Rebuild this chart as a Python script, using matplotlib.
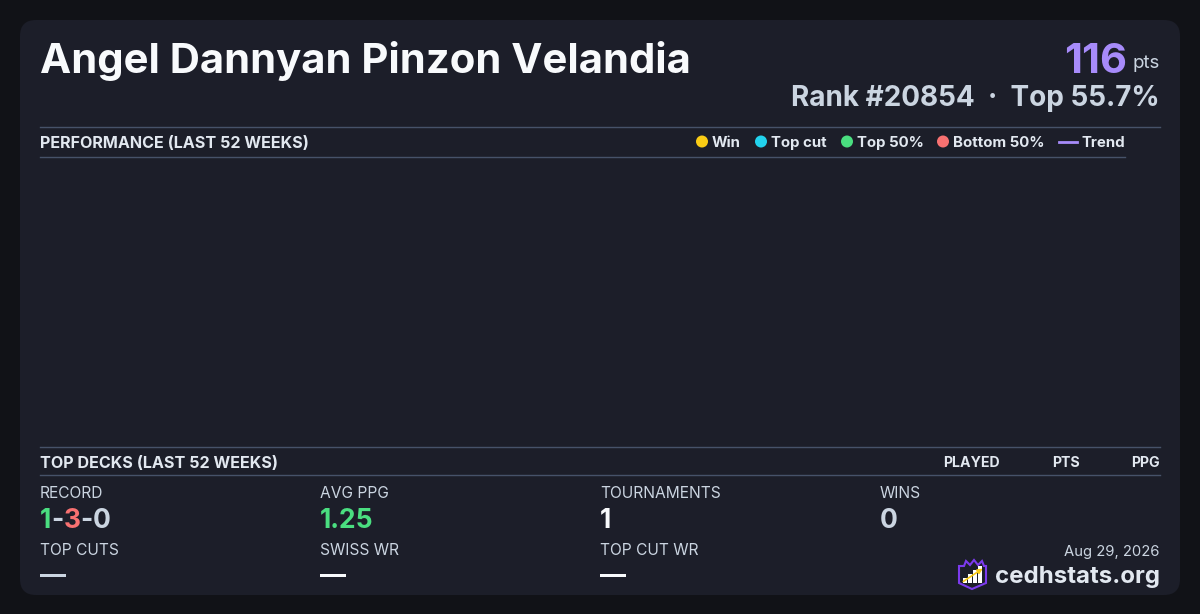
import matplotlib
matplotlib.use('Agg')
import matplotlib.pyplot as plt
from matplotlib.patches import FancyBboxPatch, Circle, Polygon, Rectangle

plt.rcParams['font.family'] = ['Inter', 'DejaVu Sans']

# card data
player_name = 'Angel Dannyan Pinzon Velandia'
points = 116
rank = 20854
top_pct = 55.7
legend_labels = ['Win', 'Top cut', 'Top 50%', 'Bottom 50%']
legend_colors = ['#facc15', '#22d3ee', '#4ade80', '#f87171']
deck_cols = ['PLAYED', 'PTS', 'PPG']
record = [1, 3, 0]
avg_ppg = 1.25
tournaments = 1
wins = 0
row2_labels = ['TOP CUTS', 'SWISS WR', 'TOP CUT WR']
date_str = 'Aug 29, 2026'

BG = '#111217'
CARD = '#1c1e29'
LINE = '#465269'
WHITE = '#f8fafc'
LIGHT = '#cbd5e1'
HEAD = '#e2e8f0'
GREEN = '#4ade80'
RED = '#f87171'
PURPLE = '#a78bfa'

fig = plt.figure(figsize=(12, 6.14), dpi=100, facecolor=BG)
ax = fig.add_axes([0, 0, 1, 1])
ax.set_xlim(0, 1200)
ax.set_ylim(614, 0)
ax.axis('off')
ax.set_facecolor(BG)

ax.add_patch(FancyBboxPatch((20, 20), 1160, 575, boxstyle='round,pad=0,rounding_size=16',
                            fc=CARD, ec='none'))

# header
ax.text(40, 73, player_name, color=WHITE, fontsize=30.1, fontweight='bold', va='baseline')
ax.text(1160, 68, 'pts', color=LIGHT, fontsize=13.5, va='baseline', ha='right')
ax.text(1127, 73, str(points), color=PURPLE, fontsize=30, fontweight='bold', va='baseline', ha='right')
ax.text(1160, 106, 'Rank #%d  ·  Top %.1f%%' % (rank, top_pct), color=LIGHT, fontsize=20.1,
        fontweight='bold', va='baseline', ha='right')

# performance section
ax.plot([40, 1160], [126.5, 126.5], color=LINE, lw=1)
ax.plot([40, 1125], [156.5, 156.5], color=LINE, lw=1)
ax.text(40, 148, 'PERFORMANCE (LAST 52 WEEKS)', color=HEAD, fontsize=11.6, fontweight='bold', va='baseline')
leg_x = [702, 761, 847, 943]
for x, lab, c in zip(leg_x, legend_labels, legend_colors):
    ax.add_patch(Circle((x, 141.5), 6, fc=c, ec='none'))
    ax.text(x + 10, 147, lab, color=HEAD, fontsize=10.8, fontweight='bold', va='baseline')
ax.plot([1059, 1077], [141.5, 141.5], color=PURPLE, lw=2)
ax.text(1081, 147, 'Trend', color=HEAD, fontsize=10.8, fontweight='bold', va='baseline')

# top decks
ax.plot([40, 1160], [446.5, 446.5], color=LINE, lw=1)
ax.plot([40, 1160], [474.5, 474.5], color=LINE, lw=1)
ax.text(40, 468, 'TOP DECKS (LAST 52 WEEKS)', color=HEAD, fontsize=11.6, fontweight='bold', va='baseline')
for x, lab in zip([1000, 1080, 1160], deck_cols):
    ax.text(x, 467, lab, color=HEAD, fontsize=10.2, fontweight='bold', va='baseline', ha='right')

# stats
col_x = [40, 320, 600, 880]
for x, lab in zip(col_x, ['RECORD', 'AVG PPG', 'TOURNAMENTS', 'WINS']):
    ax.text(x, 498, lab, color=LIGHT, fontsize=11.2, va='baseline')

fig.canvas.draw()
r = fig.canvas.get_renderer()
inv = ax.transData.inverted()
pieces = [(str(record[0]), GREEN), ('-', LIGHT), (str(record[1]), RED), ('-', LIGHT), (str(record[2]), LIGHT)]
x = 40
for s, c in pieces:
    t = ax.text(x, 528, s, color=c, fontsize=19, fontweight='bold', va='baseline')
    bb = t.get_window_extent(r)
    x = inv.transform((bb.x1, 0))[0]

ax.text(320, 528, '%.2f' % avg_ppg, color=GREEN, fontsize=19, fontweight='bold', va='baseline')
ax.text(600, 528, str(tournaments), color=WHITE, fontsize=19, fontweight='bold', va='baseline')
ax.text(880, 528, str(wins), color=LIGHT, fontsize=19, fontweight='bold', va='baseline')

for x, lab, dc in zip(col_x[:3], row2_labels, [LIGHT, WHITE, WHITE]):
    ax.text(x, 555, lab, color=LIGHT, fontsize=11.2, va='baseline')
    ax.add_patch(Rectangle((x, 574), 26, 3, fc=dc, ec='none'))

# footer
ax.text(1160, 556, date_str, color=LIGHT, fontsize=10.7, va='baseline', ha='right')
ax.text(1160, 583, 'cedhstats.org', color=HEAD, fontsize=17.3, fontweight='bold', va='baseline', ha='right')

# logo
shield = [(959, 566), (964, 566), (966, 561), (970, 565), (974, 560), (978, 565), (982, 561),
          (984, 566), (986, 566), (986, 583), (972, 589), (959, 583)]
ax.add_patch(Polygon(shield, closed=True, fc='#1c1e29', ec='#7c3aed', lw=1.5))
for bx, bh in zip([963, 968, 973, 978], [5, 9, 13, 17]):
    ax.add_patch(Rectangle((bx, 583 - bh), 3.5, bh, fc='white', ec='none'))
ax.annotate('', xy=(985, 567), xytext=(961, 583),
            arrowprops=dict(arrowstyle='-|>', color='#facc15', lw=1.2, mutation_scale=7))

fig.savefig('out.png', dpi=100, facecolor=BG)
